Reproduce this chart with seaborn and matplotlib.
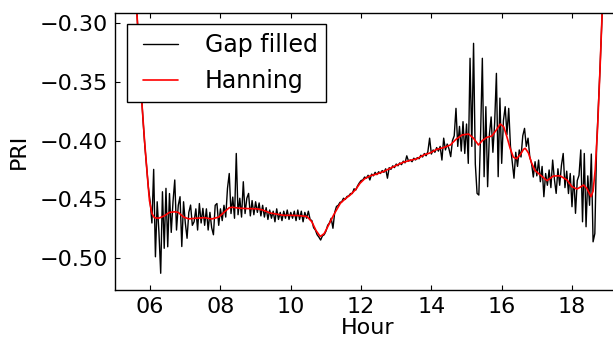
import numpy as np
import pandas as pd
import matplotlib
matplotlib.use("Agg")
import matplotlib.pyplot as plt
from matplotlib.legend_handler import HandlerLine2D
from matplotlib.lines import Line2D
import seaborn as sns

# PRI gap-filled series, 3-minute samples from 05:30 to 18:57
sample_start = 5.50
sample_step = 0.05
gap_filled = [
    -0.240, -0.262, -0.280, -0.305, -0.332, -0.360, -0.384, -0.405, -0.423, -0.440,
    -0.452, -0.470, -0.4245, -0.4987, -0.452, -0.478, -0.5127, -0.4435, -0.4915, -0.4406,
    -0.4902, -0.445, -0.478, -0.452, -0.4335, -0.476, -0.455, -0.4477, -0.490, -0.452,
    -0.470, -0.483, -0.461, -0.4548, -0.472, -0.469, -0.458, -0.476, -0.4535, -0.470,
    -0.4576, -0.472, -0.458, -0.476, -0.461, -0.474, -0.480, -0.455, -0.4535, -0.472,
    -0.458, -0.468, -0.455, -0.465, -0.4406, -0.428, -0.462, -0.448, -0.466, -0.411,
    -0.463, -0.449, -0.465, -0.435, -0.462, -0.449, -0.4449, -0.464, -0.451, -0.463,
    -0.452, -0.461, -0.453, -0.464, -0.455, -0.465, -0.457, -0.467, -0.459, -0.466,
    -0.460, -0.469, -0.458, -0.467, -0.461, -0.468, -0.460, -0.466, -0.459, -0.467,
    -0.461, -0.466, -0.460, -0.468, -0.459, -0.467, -0.460, -0.469, -0.461, -0.466,
    -0.460, -0.467, -0.468, -0.474, -0.476, -0.480, -0.482, -0.4845, -0.481, -0.480,
    -0.477, -0.472, -0.470, -0.466, -0.4745, -0.461, -0.456, -0.455, -0.4525, -0.452,
    -0.449, -0.450, -0.4475, -0.447, -0.445, -0.445, -0.441, -0.442, -0.4385, -0.436,
    -0.434, -0.4335, -0.431, -0.432, -0.4295, -0.4335, -0.4285, -0.430, -0.427, -0.429,
    -0.4265, -0.428, -0.4255, -0.427, -0.424, -0.432, -0.423, -0.4245, -0.4215, -0.423,
    -0.420, -0.4215, -0.419, -0.4205, -0.4175, -0.419, -0.413, -0.4175, -0.4165, -0.418,
    -0.415, -0.4165, -0.4145, -0.4155, -0.4125, -0.414, -0.411, -0.413, -0.4095, -0.398,
    -0.4115, -0.408, -0.410, -0.406, -0.409, -0.405, -0.4166, -0.398, -0.408, -0.403,
    -0.407, -0.4137, -0.400, -0.396, -0.3727, -0.405, -0.388, -0.409, -0.384, -0.411,
    -0.386, -0.4194, -0.3302, -0.405, -0.3175, -0.420, -0.4449, -0.4463, -0.395, -0.3302,
    -0.4307, -0.3713, -0.4392, -0.395, -0.380, -0.410, -0.385, -0.343, -0.4307, -0.364,
    -0.4194, -0.383, -0.3713, -0.395, -0.3727, -0.405, -0.418, -0.432, -0.410, -0.422,
    -0.408, -0.414, -0.396, -0.3897, -0.405, -0.398, -0.414, -0.4195, -0.431, -0.418,
    -0.430, -0.4166, -0.435, -0.422, -0.4477, -0.428, -0.438, -0.425, -0.440, -0.4166,
    -0.433, -0.4449, -0.424, -0.438, -0.421, -0.411, -0.440, -0.426, -0.445, -0.428,
    -0.4562, -0.430, -0.4618, -0.434, -0.4295, -0.408, -0.469, -0.411, -0.4732, -0.430,
    -0.455, -0.4115, -0.486, -0.479, -0.405, -0.372, -0.337, -0.298, -0.260, -0.220,
]
gap_hours = np.round(sample_start + sample_step * np.arange(len(gap_filled)), 2)

# Hanning-smoothed curve
hanning_hours = [
    5.55, 5.62, 5.70, 5.76, 5.84, 5.92, 5.98, 6.05, 6.12, 6.24, 6.40, 6.55, 6.70,
    6.80, 6.95, 7.10, 7.30, 7.55, 7.75, 7.95, 8.10, 8.25, 8.35, 8.55, 8.80, 9.05,
    9.20, 9.41, 9.60, 9.79, 10.00, 10.25, 10.46, 10.60, 10.72, 10.84, 10.95, 11.03,
    11.22, 11.41, 11.55, 11.69, 11.85, 11.97, 12.10, 12.26, 12.45, 12.65, 12.83,
    13.00, 13.20, 13.40, 13.59, 13.80, 13.97, 14.15, 14.34, 14.54, 14.70, 14.87,
    15.06, 15.20, 15.34, 15.45, 15.58, 15.72, 15.85, 15.96, 16.06, 16.15, 16.24,
    16.33, 16.42, 16.53, 16.62, 16.67, 16.76, 16.85, 16.95, 17.10, 17.29, 17.47,
    17.66, 17.86, 18.00, 18.14, 18.24, 18.33, 18.42, 18.47, 18.54, 18.60, 18.66,
    18.73, 18.80, 18.86, 18.92,
]
hanning = [
    -0.262, -0.290, -0.332, -0.366, -0.400, -0.430, -0.451, -0.462, -0.4655, -0.466,
    -0.464, -0.461, -0.4605, -0.461, -0.465, -0.4665, -0.466, -0.4655, -0.4666,
    -0.465, -0.461, -0.457, -0.4567, -0.4575, -0.4578, -0.458, -0.459, -0.4615,
    -0.4625, -0.4635, -0.4635, -0.4638, -0.4645, -0.469, -0.4765, -0.4815, -0.479,
    -0.4745, -0.4632, -0.4533, -0.4495, -0.4463, -0.4415, -0.4363, -0.4325, -0.4300,
    -0.4284, -0.4262, -0.4236, -0.4212, -0.4185, -0.4168, -0.4155, -0.412, -0.4105,
    -0.4075, -0.4061, -0.4038, -0.399, -0.3953, -0.3945, -0.3981, -0.4038, -0.400,
    -0.3973, -0.3962, -0.391, -0.386, -0.3885, -0.397, -0.4066, -0.414, -0.4155,
    -0.412, -0.4075, -0.4066, -0.4105, -0.419, -0.4255, -0.4293, -0.4341, -0.4301,
    -0.4300, -0.4335, -0.4392, -0.4412, -0.4395, -0.4378, -0.4405, -0.4435, -0.4477,
    -0.443, -0.425, -0.3883, -0.3374, -0.290, -0.250,
]

hour_ticks = [6, 8, 10, 12, 14, 16, 18]
hour_labels = ["06", "08", "10", "12", "14", "16", "18"]
pri_ticks = [-0.50, -0.45, -0.40, -0.35, -0.30]

sns.set_style("ticks", {"text.color": "black", "axes.labelcolor": "black",
                        "xtick.color": "black", "ytick.color": "black",
                        "axes.edgecolor": "black"})
plt.rcParams["font.family"] = ["DejaVu Sans"]
plt.rcParams["font.size"] = 16

fig = plt.figure(figsize=(6.13, 3.42), dpi=100)
ax = fig.add_axes([115 / 613, 52 / 342, 506.2 / 613, 277.3 / 342])

gap_df = pd.DataFrame({"Hour": gap_hours, "PRI": gap_filled})
han_df = pd.DataFrame({"Hour": hanning_hours, "PRI": hanning})
sns.lineplot(data=gap_df, x="Hour", y="PRI", ax=ax, color="black", lw=1.0,
             label="Gap filled")
sns.lineplot(data=han_df, x="Hour", y="PRI", ax=ax, color="red", lw=1.2,
             label="Hanning")

ax.set_xlim(5.0, 19.4)
ax.set_ylim(-0.5269, -0.2915)
ax.set_xticks(hour_ticks)
ax.set_xticklabels(hour_labels)
ax.set_yticks(pri_ticks)
ax.tick_params(direction="in", top=True, right=True, length=3.5, width=0.8,
               labelsize=16, pad=5, colors="black")
for side in ax.spines.values():
    side.set_linewidth(1.0)
    side.set_color("black")
ax.set_xlabel("Hour", fontsize=16, labelpad=1, color="black")
ax.set_ylabel("PRI", fontsize=16, labelpad=8, color="black")

leg = ax.legend(loc="upper left", bbox_to_anchor=(11.7 / 506.2, 1 - 11.6 / 277.3),
                borderaxespad=0, fancybox=False, framealpha=1, edgecolor="black",
                fontsize=17, handlelength=1.8, handletextpad=1.12,
                borderpad=0.38, labelspacing=0.5,
                handler_map={Line2D: HandlerLine2D(xpad=0.32)})
leg.get_frame().set_linewidth(1.0)
for t in leg.get_texts():
    t.set_color("black")

fig.savefig("out.png", dpi=100)
